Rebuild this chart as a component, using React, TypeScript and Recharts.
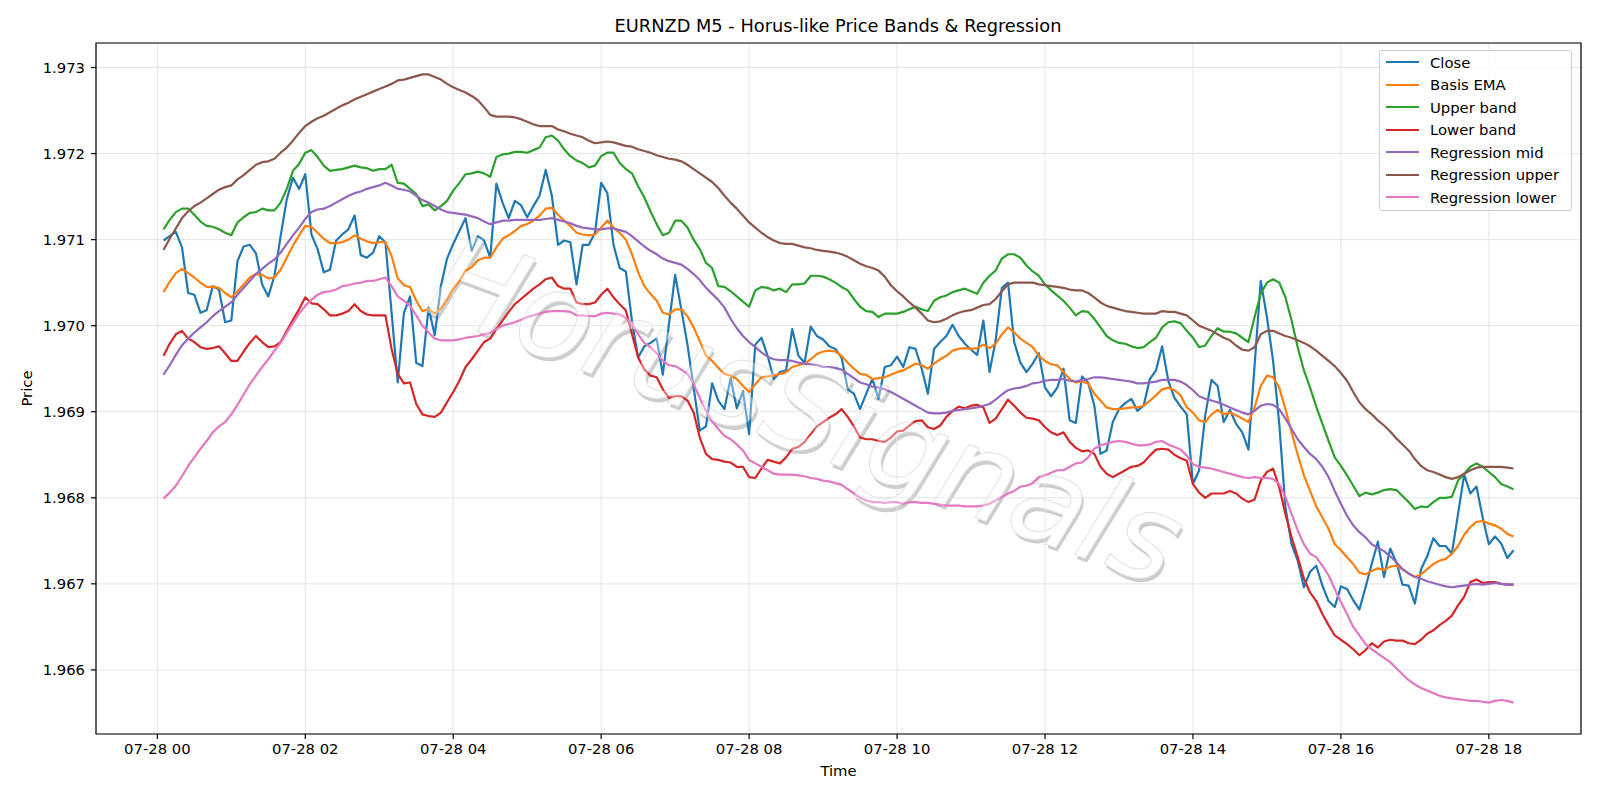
import {
  LineChart,
  Line,
  XAxis,
  YAxis,
  CartesianGrid,
  ReferenceArea,
} from 'recharts';

const FONT = '"DejaVu Sans", "Liberation Sans", sans-serif';

// prices are kept as 1e-5 steps above 1.96000 (so 1099 -> 1.97099)
const BASE_PRICE = 1.96;
const PRICE_UNIT = 0.00001;
const BAR_MINUTES = 5; // first bar 07-28 00:05, last 07-28 18:20

const closeSteps = [
  1099, 1104, 1109, 1091, 1038, 1036, 1015, 1018, 1046, 1042, 1004, 1006, 1075, 1092, 1094, 1084, 1048, 1034, 1058, 1104,
  1147, 1172, 1159, 1176, 1106, 1089, 1062, 1065, 1099, 1106, 1112, 1128, 1082, 1079, 1085, 1104, 1097, 1015, 934, 1015,
  1034, 957, 953, 1021, 989, 1046, 1078, 1095, 1110, 1125, 1087, 1104, 1099, 1079, 1165, 1143, 1125, 1145, 1140, 1126,
  1139, 1151, 1181, 1151, 1094, 1099, 1097, 1048, 1094, 1094, 1108, 1166, 1154, 1094, 1067, 1063, 1005, 963, 976, 980,
  985, 943, 1002, 1059, 1019, 978, 928, 878, 883, 933, 913, 903, 939, 904, 924, 874, 978, 986, 965, 938,
  946, 948, 996, 965, 957, 999, 988, 984, 976, 973, 963, 926, 921, 903, 921, 938, 915, 952, 954, 964,
  952, 975, 973, 950, 921, 973, 981, 988, 1001, 988, 979, 972, 966, 1006, 946, 983, 1044, 1050, 981, 957,
  946, 956, 968, 928, 918, 928, 950, 890, 887, 941, 934, 907, 851, 855, 888, 903, 910, 915, 901, 907,
  938, 948, 976, 936, 916, 906, 897, 816, 832, 896, 937, 930, 888, 902, 886, 876, 856, 954, 1052, 1010,
  959, 886, 789, 746, 727, 696, 714, 721, 698, 680, 673, 697, 694, 681, 670, 696, 723, 749, 708, 741,
  725, 699, 698, 677, 717, 732, 753, 744, 744, 735, 781, 827, 805, 813, 777, 746, 755, 747, 730, 739,
];

const basisSteps = [
  1039, 1051, 1061, 1066, 1061, 1056, 1050, 1045, 1045, 1044, 1038, 1033, 1040, 1048, 1056, 1060, 1059, 1055, 1056, 1065,
  1079, 1093, 1105, 1116, 1115, 1108, 1101, 1096, 1096, 1097, 1100, 1105, 1101, 1098, 1096, 1097, 1097, 1081, 1055, 1047,
  1045, 1029, 1017, 1019, 1014, 1020, 1031, 1043, 1052, 1064, 1068, 1076, 1079, 1079, 1091, 1101, 1105, 1110, 1116, 1118,
  1122, 1128, 1136, 1137, 1129, 1122, 1116, 1108, 1106, 1105, 1106, 1114, 1122, 1114, 1108, 1100, 1083, 1062, 1046, 1037,
  1029, 1015, 1013, 1019, 1019, 1011, 998, 982, 965, 959, 951, 944, 942, 938, 930, 923, 932, 940, 941, 942,
  944, 946, 952, 954, 956, 961, 967, 970, 971, 970, 965, 957, 950, 944, 943, 938, 939, 940, 943, 946,
  948, 952, 956, 954, 950, 956, 961, 965, 971, 973, 974, 973, 974, 978, 974, 979, 990, 998, 992, 985,
  980, 975, 965, 959, 955, 954, 946, 938, 934, 935, 933, 921, 913, 905, 903, 903, 904, 905, 905, 907,
  913, 919, 926, 928, 925, 919, 905, 899, 890, 888, 897, 902, 897, 899, 896, 892, 888, 905, 930, 942,
  940, 928, 903, 876, 850, 826, 808, 790, 777, 764, 746, 739, 731, 723, 713, 711, 715, 718, 716, 720,
  721, 717, 712, 708, 711, 717, 723, 727, 729, 735, 744, 757, 766, 772, 773, 770, 768, 764, 758, 755,
];

const upperBandSteps = [
  1112, 1123, 1132, 1136, 1136, 1129, 1121, 1116, 1115, 1112, 1108, 1105, 1120, 1126, 1131, 1132, 1136, 1134, 1134, 1143,
  1159, 1180, 1188, 1201, 1204, 1196, 1186, 1180, 1181, 1182, 1184, 1186, 1184, 1183, 1180, 1182, 1182, 1187, 1166, 1165,
  1159, 1153, 1139, 1141, 1134, 1139, 1145, 1157, 1166, 1176, 1177, 1179, 1177, 1173, 1196, 1199, 1200, 1202, 1202, 1201,
  1204, 1207, 1219, 1221, 1215, 1205, 1197, 1192, 1189, 1184, 1186, 1197, 1201, 1201, 1189, 1182, 1177, 1162, 1149, 1133,
  1118, 1105, 1108, 1122, 1122, 1114, 1100, 1089, 1073, 1067, 1046, 1045, 1040, 1034, 1028, 1022, 1041, 1045, 1044, 1041,
  1043, 1039, 1048, 1048, 1049, 1058, 1058, 1057, 1054, 1050, 1045, 1041, 1031, 1022, 1017, 1016, 1010, 1014, 1014, 1014,
  1016, 1019, 1022, 1019, 1017, 1029, 1033, 1035, 1039, 1041, 1043, 1040, 1037, 1050, 1058, 1064, 1078, 1083, 1083, 1079,
  1070, 1063, 1058, 1048, 1041, 1035, 1029, 1021, 1012, 1017, 1016, 1008, 998, 988, 983, 980, 979, 976, 974, 975,
  981, 986, 998, 1004, 1005, 1003, 994, 986, 975, 977, 988, 997, 993, 993, 991, 986, 981, 1010, 1037, 1050,
  1054, 1050, 1033, 1006, 975, 948, 928, 906, 886, 866, 847, 837, 826, 814, 802, 806, 804, 806, 809, 810,
  809, 802, 795, 787, 790, 789, 795, 800, 800, 801, 820, 828, 836, 840, 836, 830, 824, 816, 813, 810,
];

const lowerBandSteps = [
  965, 979, 990, 994, 985, 981, 975, 973, 974, 976, 968, 959, 959, 970, 980, 988, 981, 975, 976, 981,
  994, 1007, 1019, 1033, 1026, 1025, 1019, 1012, 1012, 1014, 1017, 1025, 1017, 1013, 1012, 1012, 1012, 973, 944, 933,
  934, 909, 897, 895, 894, 899, 911, 923, 936, 952, 961, 971, 981, 985, 996, 1006, 1016, 1025, 1031, 1037,
  1043, 1048, 1054, 1056, 1046, 1043, 1043, 1027, 1025, 1025, 1027, 1036, 1043, 1033, 1025, 1018, 990, 963, 949, 942,
  940, 926, 916, 918, 918, 913, 899, 870, 851, 845, 844, 842, 841, 836, 836, 824, 823, 834, 844, 842,
  840, 847, 857, 859, 865, 874, 883, 888, 893, 897, 903, 894, 883, 870, 868, 868, 866, 865, 870, 877,
  878, 884, 889, 890, 882, 880, 884, 894, 901, 906, 904, 907, 908, 905, 887, 892, 903, 914, 907, 899,
  893, 892, 890, 882, 876, 873, 876, 865, 858, 854, 855, 851, 836, 828, 824, 828, 832, 836, 837, 841,
  849, 856, 857, 856, 850, 846, 843, 816, 806, 800, 805, 805, 805, 808, 805, 799, 795, 798, 820, 830,
  834, 812, 781, 754, 731, 706, 690, 680, 665, 652, 640, 635, 630, 624, 617, 623, 631, 626, 633, 635,
  634, 634, 631, 630, 635, 642, 646, 652, 657, 663, 675, 685, 702, 705, 701, 702, 702, 700, 699, 699,
];

const regMidSteps = [
  943, 954, 966, 977, 985, 992, 998, 1004, 1011, 1017, 1022, 1027, 1036, 1044, 1052, 1060, 1066, 1072, 1077, 1085,
  1095, 1105, 1114, 1124, 1132, 1135, 1136, 1139, 1143, 1147, 1151, 1154, 1156, 1159, 1161, 1163, 1166, 1163, 1159, 1158,
  1156, 1151, 1146, 1143, 1139, 1135, 1132, 1131, 1130, 1129, 1127, 1125, 1121, 1118, 1120, 1122, 1122, 1123, 1123, 1123,
  1123, 1123, 1124, 1125, 1123, 1121, 1119, 1116, 1114, 1113, 1112, 1112, 1113, 1113, 1111, 1109, 1104, 1098, 1092, 1087,
  1083, 1078, 1075, 1073, 1071, 1066, 1060, 1053, 1044, 1037, 1030, 1021, 1008, 997, 988, 981, 975, 969, 964, 961,
  960, 960, 959, 957, 956, 955, 954, 952, 952, 951, 949, 944, 939, 934, 932, 929, 928, 926, 923, 919,
  915, 911, 907, 903, 899, 898, 898, 899, 901, 902, 903, 904, 905, 907, 909, 914, 920, 925, 927, 928,
  930, 933, 934, 936, 937, 937, 938, 936, 935, 937, 938, 940, 940, 939, 938, 937, 936, 935, 933, 933,
  934, 935, 937, 937, 937, 935, 931, 925, 918, 915, 913, 911, 908, 905, 902, 899, 897, 901, 907, 909,
  908, 903, 892, 880, 868, 859, 851, 845, 836, 824, 808, 793, 779, 768, 760, 754, 746, 742, 738, 732,
  725, 717, 712, 708, 706, 703, 701, 699, 697, 696, 697, 698, 699, 700, 699, 700, 701, 700, 699, 699,
];

const regUpperSteps = [
  1088, 1101, 1113, 1125, 1133, 1139, 1143, 1148, 1153, 1158, 1161, 1163, 1170, 1175, 1181, 1187, 1190, 1191, 1194, 1201,
  1207, 1215, 1224, 1232, 1237, 1241, 1244, 1248, 1252, 1256, 1259, 1263, 1266, 1269, 1272, 1275, 1278, 1281, 1285, 1286,
  1288, 1290, 1292, 1292, 1289, 1286, 1281, 1277, 1274, 1271, 1267, 1262, 1254, 1245, 1243, 1243, 1243, 1242, 1240, 1237,
  1234, 1232, 1232, 1232, 1228, 1226, 1223, 1221, 1219, 1215, 1212, 1213, 1214, 1213, 1211, 1209, 1208, 1205, 1203, 1201,
  1198, 1196, 1194, 1193, 1191, 1187, 1182, 1177, 1172, 1167, 1160, 1151, 1143, 1136, 1128, 1120, 1114, 1108, 1103, 1099,
  1096, 1095, 1095, 1093, 1091, 1090, 1088, 1087, 1086, 1085, 1083, 1080, 1076, 1072, 1069, 1067, 1064, 1057, 1047, 1040,
  1034, 1027, 1021, 1014, 1006, 1004, 1005, 1008, 1012, 1015, 1017, 1018, 1021, 1024, 1025, 1031, 1040, 1048, 1050, 1050,
  1050, 1050, 1048, 1047, 1046, 1045, 1044, 1042, 1041, 1041, 1038, 1033, 1027, 1023, 1021, 1019, 1017, 1016, 1015, 1014,
  1014, 1014, 1017, 1016, 1016, 1014, 1012, 1006, 1000, 997, 994, 990, 986, 983, 977, 972, 971, 975, 990, 994,
  994, 991, 988, 986, 983, 980, 976, 971, 965, 959, 953, 945, 936, 923, 911, 903, 897, 890, 884, 877,
  869, 862, 855, 845, 837, 832, 830, 827, 824, 822, 824, 828, 832, 835, 836, 836, 836, 836, 835, 834,
];

const regLowerSteps = [
  799, 806, 814, 825, 837, 847, 857, 866, 876, 883, 888, 897, 908, 920, 932, 942, 952, 961, 971, 980,
  992, 1003, 1014, 1023, 1030, 1036, 1039, 1040, 1042, 1046, 1047, 1049, 1050, 1052, 1052, 1054, 1056, 1046, 1034, 1029,
  1023, 1012, 1000, 992, 985, 983, 983, 983, 984, 986, 987, 988, 990, 992, 996, 1000, 1002, 1004, 1007, 1010,
  1012, 1014, 1016, 1017, 1017, 1017, 1016, 1012, 1012, 1011, 1011, 1014, 1015, 1014, 1013, 1009, 1002, 990, 980, 975,
  968, 959, 954, 953, 949, 944, 932, 916, 901, 889, 880, 872, 868, 862, 855, 844, 840, 836, 832, 828,
  827, 827, 827, 826, 825, 823, 822, 820, 819, 817, 815, 810, 805, 800, 797, 795, 795, 794, 795, 795,
  793, 795, 795, 794, 794, 793, 792, 791, 791, 791, 790, 790, 790, 791, 793, 797, 801, 805, 808, 813,
  814, 817, 824, 826, 829, 832, 832, 836, 840, 841, 847, 857, 861, 863, 865, 866, 865, 863, 861, 861,
  862, 865, 866, 862, 859, 856, 849, 839, 836, 835, 834, 832, 830, 828, 826, 824, 823, 824, 823, 823,
  822, 816, 801, 781, 762, 746, 735, 731, 721, 710, 694, 679, 665, 650, 640, 630, 624, 619, 614, 609,
  602, 595, 588, 583, 579, 576, 573, 570, 568, 567, 566, 565, 564, 564, 563, 562, 564, 565, 564, 562,
];

const hourTicks = [0, 120, 240, 360, 480, 600, 720, 840, 960, 1080];
const priceTicks = [1.966, 1.967, 1.968, 1.969, 1.97, 1.971, 1.972, 1.973];

const SERIES = [
  { key: 'close', name: 'Close', color: '#1f77b4', steps: closeSteps },
  { key: 'basis', name: 'Basis EMA', color: '#ff7f0e', steps: basisSteps },
  { key: 'upper', name: 'Upper band', color: '#2ca02c', steps: upperBandSteps },
  { key: 'lower', name: 'Lower band', color: '#d62728', steps: lowerBandSteps },
  { key: 'regMid', name: 'Regression mid', color: '#9467bd', steps: regMidSteps },
  { key: 'regUpper', name: 'Regression upper', color: '#8c564b', steps: regUpperSteps },
  { key: 'regLower', name: 'Regression lower', color: '#e377c2', steps: regLowerSteps },
];

const rows = closeSteps.map((_, i) => {
  const row: Record<string, number> = { minute: (i + 1) * BAR_MINUTES };
  SERIES.forEach((s) => {
    row[s.key] = BASE_PRICE + s.steps[i] * PRICE_UNIT;
  });
  return row;
});

// matplotlib-style autoscale: data range plus 5% each side
const firstMin = rows[0].minute;
const lastMin = rows[rows.length - 1].minute;
const xPad = (lastMin - firstMin) * 0.05;
const X_MIN = firstMin - xPad;
const X_MAX = lastMin + xPad;

const allSteps = SERIES.flatMap((s) => s.steps);
const lo = BASE_PRICE + Math.min(...allSteps) * PRICE_UNIT;
const hi = BASE_PRICE + Math.max(...allSteps) * PRICE_UNIT;
const Y_MIN = lo - (hi - lo) * 0.05;
const Y_MAX = hi + (hi - lo) * 0.05;

const fmtHour = (m: number) => `07-28 ${String(Math.round(m / 60)).padStart(2, '0')}`;

const tickStyle = { fontSize: 14.8, fill: '#000', fontFamily: FONT };

// watermark placement (baseline centre, angle)
const WM = { x: 792, y: 449, angle: 20.5, size: 121, text: 'HorusSignals' };

function PriceLabel(props: any) {
  const vb = props.viewBox;
  const cx = vb.x + 32;
  const cy = vb.y + vb.height / 2;
  return (
    <text x={cx} y={cy} transform={`rotate(-90 ${cx} ${cy})`} textAnchor="middle" fontSize={14.8} fontFamily={FONT} fill="#000">
      Price
    </text>
  );
}

function TimeLabel(props: any) {
  const vb = props.viewBox;
  return (
    <text x={vb.x + vb.width / 2} y={vb.y + 42} textAnchor="middle" fontSize={14.8} fontFamily={FONT} fill="#000">
      Time
    </text>
  );
}

function LegendBox() {
  return (
    <div
      style={{
        position: 'absolute',
        left: 1379,
        top: 50,
        width: 193,
        height: 161,
        border: '1.3px solid #cccccc',
        borderRadius: 3,
        background: 'rgba(255,255,255,0.8)',
        fontFamily: FONT,
        fontSize: 14.8,
        color: '#000',
        boxSizing: 'border-box',
      }}
    >
      {SERIES.map((s) => (
        <div key={s.key} style={{ display: 'flex', alignItems: 'center', height: 22.5, whiteSpace: 'nowrap' }}>
          <span style={{ display: 'inline-block', width: 33, height: 2.2, background: s.color, marginLeft: 5.5, marginRight: 11.5 }} />
          <span>{s.name}</span>
        </div>
      ))}
    </div>
  );
}

const layer = { position: 'absolute' as const, left: 0, top: 0, pointerEvents: 'none' as const };

export default function App() {
  const wmRotate = `rotate(${WM.angle} ${WM.x} ${WM.y})`;
  return (
    <div style={{ position: 'absolute', left: 0, top: 0, width: 1600, height: 800, background: '#fff' }}>
      {/* watermark body + drop shadow, under the lines */}
      <svg width={1600} height={800} style={layer}>
        <g transform={wmRotate} fontFamily={FONT} fontStyle="italic" fontSize={WM.size} textAnchor="middle">
          <text x={WM.x + 3} y={WM.y + 3} fill="#cdcdcd">{WM.text}</text>
          <text x={WM.x} y={WM.y} fill="#ffffff" stroke="#dcdcdc" strokeWidth={1}>{WM.text}</text>
        </g>
      </svg>

      <LineChart width={1600} height={800} data={rows} margin={{ top: 43, right: 19, bottom: 0, left: 0 }}>
        <CartesianGrid stroke="#e4e4e4" strokeWidth={1} />
        <XAxis
          dataKey="minute"
          type="number"
          domain={[X_MIN, X_MAX]}
          ticks={hourTicks}
          interval={0}
          allowDataOverflow
          height={66}
          tickFormatter={fmtHour}
          tick={tickStyle}
          tickLine={{ stroke: '#000', strokeWidth: 1.2 }}
          tickSize={5}
          tickMargin={4}
          axisLine={false}
          label={<TimeLabel />}
        />
        <YAxis
          type="number"
          domain={[Y_MIN, Y_MAX]}
          ticks={priceTicks}
          interval={0}
          allowDataOverflow
          width={96}
          tickFormatter={(v: number) => v.toFixed(3)}
          tick={tickStyle}
          tickLine={{ stroke: '#000', strokeWidth: 1.2 }}
          tickSize={5}
          tickMargin={6}
          axisLine={false}
          label={<PriceLabel />}
        />
        {SERIES.map((s) => (
          <Line
            key={s.key}
            type="linear"
            dataKey={s.key}
            name={s.name}
            stroke={s.color}
            strokeWidth={2.2}
            strokeLinejoin="round"
            dot={false}
            activeDot={false}
            isAnimationActive={false}
          />
        ))}
        <ReferenceArea x1={X_MIN} x2={X_MAX} y1={Y_MIN} y2={Y_MAX} fill="none" stroke="#000" strokeWidth={1.2} ifOverflow="visible" />
      </LineChart>

      {/* title, and a thin veil of the watermark over the lines */}
      <svg width={1600} height={800} style={layer}>
        <text x={838} y={32} textAnchor="middle" fontSize={17.8} fontFamily={FONT} fill="#000">
          EURNZD M5 - Horus-like Price Bands &amp; Regression
        </text>
        <g transform={wmRotate} fontFamily={FONT} fontStyle="italic" fontSize={WM.size} textAnchor="middle">
          <text x={WM.x} y={WM.y} fill="#ffffff" fillOpacity={0.35}>{WM.text}</text>
        </g>
      </svg>

      <LegendBox />
    </div>
  );
}
